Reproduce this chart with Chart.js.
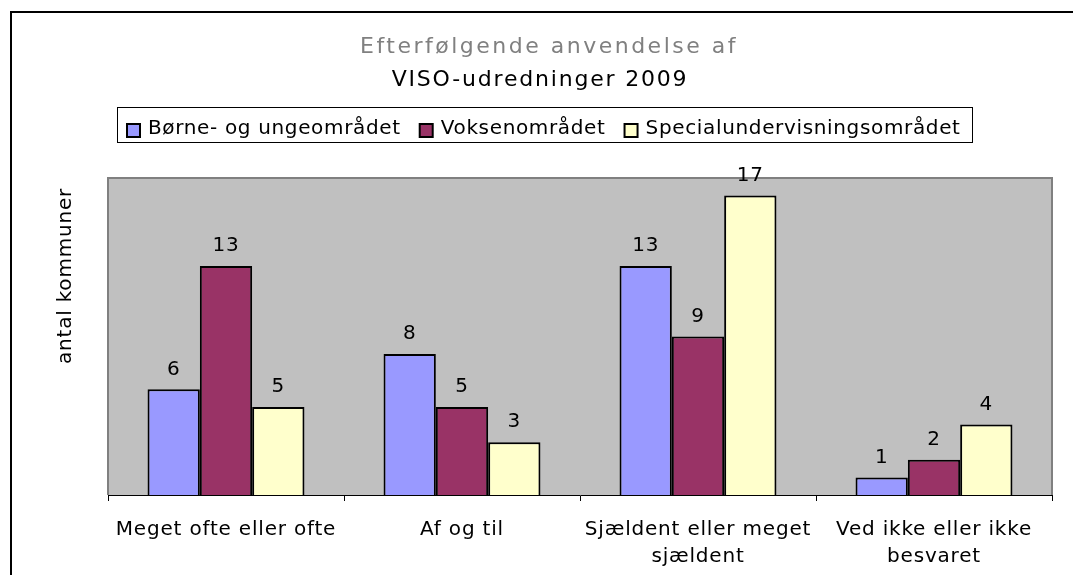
<!DOCTYPE html>
<html>
<head>
<meta charset="utf-8">
<script src="https://cdn.jsdelivr.net/npm/chart.js"></script>
<style>
  html, body { margin: 0; padding: 0; background: #fff; }
  #wrap { width: 1073px; height: 575px; position: relative; }
</style>
</head>
<body>
<div id="wrap"><canvas id="visoChart"></canvas></div>
<script>
// Data
const categories = [
    'Meget ofte eller ofte',
    'Af og til',
    ['Sjældent eller meget', 'sjældent'],
    ['Ved ikke eller ikke', 'besvaret']
];
const seriesNames = ['Børne- og ungeområdet', 'Voksenområdet', 'Specialundervisningsområdet'];
const boerneUnge = [6, 8, 13, 1];
const voksen = [13, 5, 9, 2];
const specialUnderv = [5, 3, 17, 4];
const seriesColors = ['#9999FF', '#993366', '#FFFFCC'];
const titleLines = ['Efterfølgende anvendelse af', 'VISO-udredninger 2009'];
const yTitle = 'antal kommuner';
const yMax = 18;

const FONT = '"DejaVu Sans", Verdana, sans-serif';
const SPACING = '0.8px';

// Old Excel-style look: frame, grey plot area, boxed legend, value labels
const excelLook = {
    id: 'excelLook',
    beforeLayout(chart) {
        chart.ctx.letterSpacing = SPACING;
    },
    beforeDraw(chart) {
        const ctx = chart.ctx;
        const a = chart.chartArea;
        ctx.letterSpacing = SPACING;
        ctx.save();
        // outer frame
        ctx.strokeStyle = '#000';
        ctx.lineWidth = 2;
        ctx.beginPath();
        ctx.moveTo(11, 600);
        ctx.lineTo(11, 12);
        ctx.lineTo(1080, 12);
        ctx.stroke();

        ctx.fillStyle = '#C0C0C0';
        ctx.fillRect(a.left, a.top, a.right - a.left, a.bottom - a.top);

        // title, two lines
        ctx.textAlign = 'center';
        ctx.textBaseline = 'middle';
        ctx.font = '22px ' + FONT;
        ctx.letterSpacing = '2.5px';
        ctx.fillStyle = '#808080';
        ctx.fillText(titleLines[0], 549, 47);
        ctx.letterSpacing = '1.8px';
        ctx.fillStyle = '#000';
        ctx.fillText(titleLines[1], 540, 80);

        // legend
        ctx.letterSpacing = '0.65px';
        ctx.font = '20px ' + FONT;
        ctx.textAlign = 'left';
        ctx.textBaseline = 'alphabetic';
        let x = 127;
        let textEnd = x;
        seriesNames.forEach((name, i) => {
            ctx.fillStyle = seriesColors[i];
            ctx.fillRect(x, 124, 13, 13);
            ctx.strokeStyle = '#000';
            ctx.lineWidth = 2;
            ctx.strokeRect(x, 124, 13, 13);
            ctx.fillStyle = '#000';
            ctx.fillText(name, x + 21, 134);
            textEnd = x + 21 + ctx.measureText(name).width;
            x = textEnd + 19;
        });
        ctx.strokeStyle = '#000';
        ctx.lineWidth = 1;
        ctx.strokeRect(117.5, 107.5, Math.round(textEnd) - 117 + 11, 35);
        ctx.restore();
    },
    afterDatasetsDraw(chart) {
        const ctx = chart.ctx;
        const a = chart.chartArea;
        ctx.save();
        ctx.strokeStyle = '#808080';
        ctx.lineWidth = 2;
        ctx.beginPath();
        ctx.moveTo(a.left, a.bottom);
        ctx.lineTo(a.left, a.top);
        ctx.lineTo(a.right, a.top);
        ctx.lineTo(a.right, a.bottom);
        ctx.stroke();

        // value labels above bars
        ctx.fillStyle = '#000';
        ctx.font = '20px ' + FONT;
        ctx.textAlign = 'center';
        ctx.textBaseline = 'middle';
        chart.data.datasets.forEach((ds, i) => {
            const meta = chart.getDatasetMeta(i);
            meta.data.forEach((bar, j) => {
                ctx.fillText(String(ds.data[j]), bar.x, bar.y - 20);
            });
        });

        // y axis title, placed like the original (not centred on the axis)
        ctx.translate(66, 276);
        ctx.rotate(-Math.PI / 2);
        ctx.fillText(yTitle, 0, 0);
        ctx.restore();
    }
};

const ctx = document.getElementById('visoChart');
const chart = new Chart(ctx, {
    type: 'bar',
    data: {
        labels: categories,
        datasets: [
            { label: seriesNames[0], data: boerneUnge, backgroundColor: seriesColors[0] },
            { label: seriesNames[1], data: voksen, backgroundColor: seriesColors[1] },
            { label: seriesNames[2], data: specialUnderv, backgroundColor: seriesColors[2] }
        ]
    },
    options: {
        responsive: true,
        maintainAspectRatio: false,
        animation: false,
        datasets: {
            bar: {
                borderColor: '#000',
                borderWidth: 2,
                categoryPercentage: 0.665,
                barPercentage: 1
            }
        },
        layout: {
            padding: { left: 108, right: 21, top: 178, bottom: -10 }
        },
        plugins: {
            title: { display: false },
            legend: { display: false },
            tooltip: { enabled: false }
        },
        scales: {
            x: {
                grid: {
                    display: true,
                    drawOnChartArea: false,
                    drawTicks: true,
                    tickLength: 6,
                    offset: true,
                    color: '#000'
                },
                border: { display: true, color: '#000', width: 1 },
                ticks: {
                    color: '#000',
                    font: { family: FONT, size: 20, lineHeight: 1.35 },
                    padding: 15,
                    maxRotation: 0
                }
            },
            y: {
                display: false,
                min: 0,
                max: yMax
            }
        }
    },
    plugins: [excelLook]
});
</script>
</body>
</html>
